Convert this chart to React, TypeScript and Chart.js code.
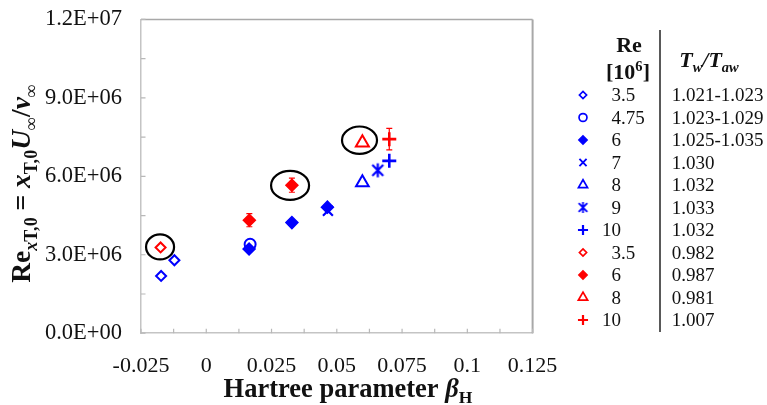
import React, { useEffect, useRef } from 'react';
import { Chart, registerables } from 'chart.js';
import { drawPoint } from 'chart.js/helpers';

Chart.register(...registerables);

// ---------- data ----------
const blue35X = [-0.0173, -0.0122];
const blue35Y = [2.19e6, 2.79e6];
const blue475X = [0.0168];
const blue475Y = [3.4e6];
const blue6X = [0.0164, 0.0328, 0.0464];
const blue6Y = [3.22e6, 4.23e6, 4.82e6];
const blue7X = [0.0466];
const blue7Y = [4.68e6];
const blue8X = [0.0598];
const blue8Y = [5.76e6];
const blue9X = [0.0657];
const blue9Y = [6.23e6];
const blue10X = [0.0701];
const blue10Y = [6.59e6];
const red35X = [-0.0175];
const red35Y = [3.28e6];
const red6X = [0.0165, 0.0328];
const red6Y = [4.32e6, 5.66e6];
const red6Err = [0.25e6, 0.27e6];
const red8X = [0.0598];
const red8Y = [7.28e6];
const red10X = [0.0701];
const red10Y = [7.42e6];
const red10Err = [0.41e6];

const circledX = [-0.0177, 0.0321, 0.0587];
const circledY = [3.3e6, 5.65e6, 7.38e6];

const legendRe = ['3.5', '4.75', '6', '7', '8', '9', '10', '3.5', '6', '8', '10'];
const legendRatio = ['1.021-1.023', '1.023-1.029', '1.025-1.035', '1.030', '1.032', '1.033', '1.032', '0.982', '0.987', '0.981', '1.007'];

const xTickLabels = ['-0.025', '0', '0.025', '0.05', '0.075', '0.1', '0.125'];
const yTickLabels = ['0.0E+00', '3.0E+06', '6.0E+06', '9.0E+06', '1.2E+07'];

// ---------- styles ----------
const BLUE = '#0000ff';
const RED = '#ff0000';
const FONT = '"Liberation Serif", "Times New Roman", serif';

function makeAsterisk(color: string, r: number, lw: number) {
  const size = Math.ceil(2 * r + lw + 2);
  const c = document.createElement('canvas');
  c.width = size;
  c.height = size;
  const g = c.getContext('2d');
  if (g) {
    const m = size / 2;
    g.strokeStyle = color;
    g.lineWidth = lw;
    g.beginPath();
    g.moveTo(m, m - r);
    g.lineTo(m, m + r);
    const d = r * 0.78;
    g.moveTo(m - d, m - d);
    g.lineTo(m + d, m + d);
    g.moveTo(m - d, m + d);
    g.lineTo(m + d, m - d);
    g.stroke();
  }
  return c;
}

type Series = {
  xs: number[];
  ys: number[];
  errs?: number[];
  color: string;
  style: any;
  fill: boolean;
  r: number;
  lw: number;
  legendStyle?: any;
};

type Seg = { t: string; f: string; sub?: boolean; sup?: boolean };

function drawRich(ctx: CanvasRenderingContext2D, segs: Seg[], x: number, y: number, size: number, align: 'center' | 'left') {
  const small = size * 0.66;
  const widths: number[] = [];
  let total = 0;
  for (const s of segs) {
    ctx.font = `${s.f} ${s.sub || s.sup ? small : size}px ${FONT}`;
    const w = ctx.measureText(s.t).width;
    widths.push(w);
    total += w;
  }
  let cx = align === 'center' ? x - total / 2 : x;
  ctx.textAlign = 'left';
  ctx.textBaseline = 'alphabetic';
  segs.forEach((s, i) => {
    ctx.font = `${s.f} ${s.sub || s.sup ? small : size}px ${FONT}`;
    const dy = s.sub ? size * 0.24 : s.sup ? -size * 0.38 : 0;
    ctx.fillText(s.t, cx, y + dy);
    cx += widths[i];
  });
}

const yTitle: Seg[] = [
  { t: 'Re', f: 'bold' },
  { t: 'x', f: 'italic bold', sub: true },
  { t: 'T,0', f: 'bold', sub: true },
  { t: ' = ', f: 'bold' },
  { t: 'x', f: 'italic bold' },
  { t: 'T,0', f: 'bold', sub: true },
  { t: 'U', f: 'italic bold' },
  { t: '∞', f: 'bold', sub: true },
  { t: '/', f: 'bold' },
  { t: 'ν', f: 'italic bold' },
  { t: '∞', f: 'bold', sub: true },
];
const xTitle: Seg[] = [
  { t: 'Hartree parameter ', f: 'bold' },
  { t: 'β', f: 'italic bold' },
  { t: 'H', f: 'bold', sub: true },
];
const reHead: Seg[] = [{ t: 'Re', f: 'bold' }];
const reUnit: Seg[] = [
  { t: '[10', f: 'bold' },
  { t: '6', f: 'bold', sup: true },
  { t: ']', f: 'bold' },
];
const ratioHead: Seg[] = [
  { t: 'T', f: 'italic bold' },
  { t: 'w', f: 'italic bold', sub: true },
  { t: '/', f: 'italic bold' },
  { t: 'T', f: 'italic bold' },
  { t: 'aw', f: 'italic bold', sub: true },
];

export default function App() {
  const ref = useRef<HTMLCanvasElement | null>(null);

  useEffect(() => {
    const canvas = ref.current;
    if (!canvas) return;

    const series: Series[] = [
      { xs: blue35X, ys: blue35Y, color: BLUE, style: 'rectRot', fill: false, r: 5, lw: 2 },
      { xs: blue475X, ys: blue475Y, color: BLUE, style: 'circle', fill: false, r: 5.5, lw: 2 },
      { xs: blue6X, ys: blue6Y, color: BLUE, style: 'rectRot', fill: true, r: 6, lw: 1.5 },
      { xs: blue7X, ys: blue7Y, color: BLUE, style: 'crossRot', fill: false, r: 7, lw: 2.2 },
      { xs: blue8X, ys: blue8Y, color: BLUE, style: 'triangle', fill: false, r: 7.3, lw: 2 },
      { xs: blue9X, ys: blue9Y, color: BLUE, style: makeAsterisk(BLUE, 7, 2.2), fill: false, r: 7, lw: 2.2, legendStyle: makeAsterisk(BLUE, 5.5, 1.8) },
      { xs: blue10X, ys: blue10Y, color: BLUE, style: 'cross', fill: false, r: 7, lw: 2.6 },
      { xs: red35X, ys: red35Y, color: RED, style: 'rectRot', fill: false, r: 5, lw: 2 },
      { xs: red6X, ys: red6Y, errs: red6Err, color: RED, style: 'rectRot', fill: true, r: 6, lw: 1.5 },
      { xs: red8X, ys: red8Y, color: RED, style: 'triangle', fill: false, r: 7.5, lw: 2 },
      { xs: red10X, ys: red10Y, errs: red10Err, color: RED, style: 'cross', fill: false, r: 7, lw: 2.6 },
    ];

    const datasets = series.map((s, i) => ({
      label: `s${i}`,
      data: s.xs.map((x, j) => ({ x, y: s.ys[j] })),
      pointStyle: s.style,
      pointRadius: s.r,
      pointBorderWidth: s.lw,
      pointBorderColor: s.color,
      pointBackgroundColor: s.fill ? s.color : 'rgba(0,0,0,0)',
      showLine: false,
      errs: s.errs,
    }));

    const extras = {
      id: 'extras',
      afterDatasetsDraw(chart: any) {
        const ctx: CanvasRenderingContext2D = chart.ctx;
        const xs = chart.scales.x;
        const ys = chart.scales.y;
        ctx.save();
        // error bars
        chart.data.datasets.forEach((ds: any, i: number) => {
          if (!ds.errs) return;
          const meta = chart.getDatasetMeta(i);
          ds.data.forEach((p: any, j: number) => {
            const px = meta.data[j].x;
            const top = ys.getPixelForValue(p.y + ds.errs[j]);
            const bot = ys.getPixelForValue(p.y - ds.errs[j]);
            ctx.strokeStyle = ds.pointBorderColor;
            ctx.lineWidth = 1.2;
            ctx.beginPath();
            ctx.moveTo(px, top);
            ctx.lineTo(px, bot);
            ctx.moveTo(px - 3, top);
            ctx.lineTo(px + 3, top);
            ctx.moveTo(px - 3, bot);
            ctx.lineTo(px + 3, bot);
            ctx.stroke();
          });
        });
        // ellipses around highlighted points
        const radii = [[14, 12.5], [19, 14.5], [17.5, 13.7]];
        ctx.strokeStyle = '#000';
        ctx.lineWidth = 2.2;
        circledX.forEach((cx, i) => {
          ctx.beginPath();
          ctx.ellipse(xs.getPixelForValue(cx), ys.getPixelForValue(circledY[i]), radii[i][0], radii[i][1], 0, 0, Math.PI * 2);
          ctx.stroke();
        });
        ctx.restore();
      },
      afterDraw(chart: any) {
        const ctx: CanvasRenderingContext2D = chart.ctx;
        const xs = chart.scales.x;
        const ys = chart.scales.y;
        const a = chart.chartArea;
        ctx.save();
        // top & right border
        ctx.strokeStyle = '#a8a8a8';
        ctx.lineWidth = 1.5;
        ctx.beginPath();
        ctx.moveTo(a.left, a.top);
        ctx.lineTo(a.right, a.top);
        ctx.stroke();
        ctx.lineWidth = 2;
        ctx.beginPath();
        ctx.moveTo(a.right, a.top);
        ctx.lineTo(a.right, a.bottom);
        ctx.stroke();
        // inside tick marks
        ctx.strokeStyle = '#b8b8b8';
        ctx.lineWidth = 1.2;
        ctx.beginPath();
        xs.ticks.forEach((t: any) => {
          const px = xs.getPixelForValue(t.value);
          ctx.moveTo(px, a.bottom);
          ctx.lineTo(px, a.bottom - 4.5);
        });
        ys.ticks.forEach((t: any) => {
          const py = ys.getPixelForValue(t.value);
          ctx.moveTo(a.left, py);
          ctx.lineTo(a.left + 4.5, py);
        });
        ctx.stroke();

        ctx.fillStyle = '#111';
        // x title
        drawRich(ctx, xTitle, 348, 397, 26.5, 'center');
        // y title (rotated)
        ctx.save();
        ctx.translate(30, 183.5);
        ctx.rotate(-Math.PI / 2);
        drawRich(ctx, yTitle, 0, 0, 27.5, 'center');
        ctx.restore();

        // legend table
        drawRich(ctx, reHead, 629, 51.7, 22, 'center');
        drawRich(ctx, reUnit, 628, 79.3, 22, 'center');
        drawRich(ctx, ratioHead, 709, 66.7, 22, 'center');
        ctx.strokeStyle = '#222';
        ctx.lineWidth = 1.5;
        ctx.beginPath();
        ctx.moveTo(660, 30);
        ctx.lineTo(660, 332);
        ctx.stroke();

        const rowFont = `19px ${FONT}`;
        series.forEach((s, i) => {
          const base = 101 + i * 22.5;
          const my = base - 6;
          ctx.strokeStyle = s.color;
          ctx.fillStyle = s.fill ? s.color : 'rgba(0,0,0,0)';
          ctx.lineWidth = s.lw * 0.85;
          drawPoint(ctx, { pointStyle: s.legendStyle || s.style, radius: s.r * 0.72, borderWidth: s.lw * 0.85, rotation: 0 } as any, 583, my);
          ctx.fillStyle = '#111';
          ctx.font = rowFont;
          ctx.textBaseline = 'alphabetic';
          const txt = legendRe[i];
          const dot = txt.indexOf('.');
          const intPart = dot >= 0 ? txt.slice(0, dot) : txt;
          const frac = dot >= 0 ? txt.slice(dot) : '';
          ctx.textAlign = 'right';
          ctx.fillText(intPart, 621, base);
          if (frac) {
            ctx.textAlign = 'left';
            ctx.fillText(frac, 621, base);
          }
          ctx.textAlign = 'left';
          ctx.fillText(legendRatio[i], 671.7, base);
        });
        ctx.restore();
      },
    };

    const chart = new Chart(canvas, {
      type: 'scatter',
      data: { datasets: datasets as any },
      plugins: [extras],
      options: {
        responsive: false,
        animation: false,
        devicePixelRatio: 1,
        layout: { padding: { left: 0, right: 234.4, top: 19.4, bottom: 0 } },
        plugins: { legend: { display: false }, tooltip: { enabled: false } },
        scales: {
          x: {
            type: 'linear',
            min: -0.025,
            max: 0.125,
            afterFit: (s: any) => {
              s.height = 71.8;
              s.paddingLeft = 0;
              s.paddingRight = 0;
            },
            ticks: {
              stepSize: 0.0125,
              autoSkip: false,
              maxRotation: 0,
              padding: 20,
              color: '#111',
              font: { family: FONT, size: 22 },
              callback: (_v: any, i: number) => (i % 2 === 0 ? xTickLabels[i / 2] : ''),
            },
            grid: { drawOnChartArea: false, drawTicks: false },
            border: { color: '#c4c4c4', width: 1.5 },
          },
          y: {
            type: 'linear',
            min: 0,
            max: 1.2e7,
            afterFit: (s: any) => {
              s.width = 141;
              s.paddingTop = 0;
              s.paddingBottom = 0;
            },
            ticks: {
              stepSize: 1.5e6,
              autoSkip: false,
              padding: 19,
              color: '#111',
              font: { family: FONT, size: 22.5 },
              callback: (_v: any, i: number) => (i % 2 === 0 ? yTickLabels[i / 2] : ''),
            },
            grid: { drawOnChartArea: false, drawTicks: false },
            border: { color: '#c4c4c4', width: 1.5 },
          },
        },
      } as any,
    });
    return () => chart.destroy();
  }, []);

  return (
    <div style={{ position: 'fixed', left: 0, top: 0, width: 767, height: 405, background: '#fff' }}>
      <canvas ref={ref} width={767} height={405} style={{ width: 767, height: 405, display: 'block' }} />
    </div>
  );
}
